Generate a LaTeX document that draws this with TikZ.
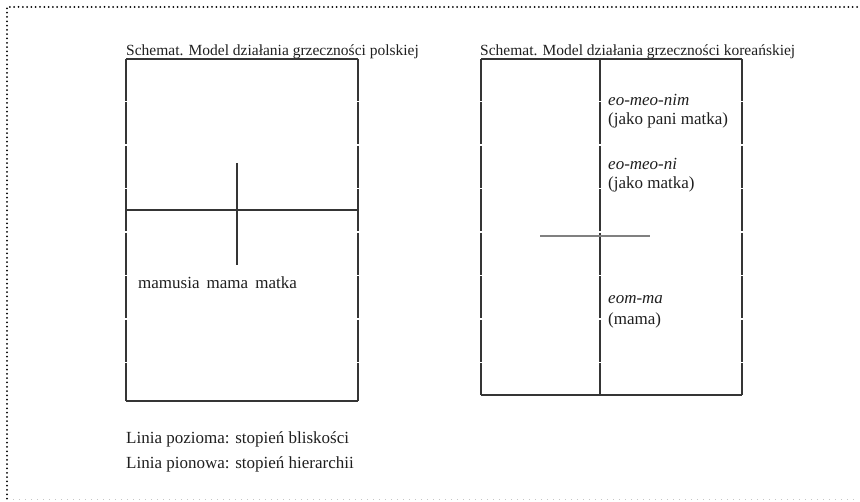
\documentclass[tikz,border=0pt]{standalone}
\usepackage{fontspec}
\setmainfont{Liberation Serif}
\usepackage{xcolor}
\definecolor{ink}{HTML}{353535}
\definecolor{txt}{HTML}{1F1F1F}
\tikzset{
    side/.style={ink,line width=1.5pt,dash pattern=on 42pt off 1.5pt},
    edge/.style={ink,line width=1.5pt},
    lbl/.style={anchor=west,inner sep=0pt,text=txt,font=\fontsize{17}{20}\selectfont},
    ttl/.style={anchor=base west,inner sep=0pt,text=txt,font=\fontsize{15.5}{18}\selectfont}
}
\newcommand{\schembox}[4]{
    \draw[edge] (#1,#2) -- (#3,#2);
    \draw[edge] (#1,#4) -- (#3,#4);
    \draw[side] (#1,#2) -- (#1,#4);
    \draw[side] (#3,#2) -- (#3,#4);
}

\begin{document}
\begin{tikzpicture}[x=1pt,y=-1pt]
\useasboundingbox (0,0) rectangle (860,502);
% frame
\draw[black,line width=2pt,line cap=round,dash pattern=on 0pt off 4.3pt] (857,7) -- (7,7) -- (7,501);
\draw[gray!45,line width=1pt,dash pattern=on 1pt off 5pt] (7,500) -- (857,500);

% polish model
\node[ttl] (tpl) at (126,55.5) {Schemat. Model działania grzeczności polskiej};
\schembox{126}{59}{358}{401}
\coordinate (hl) at (126,210);
\coordinate (hr) at (358,210);
\coordinate (vt) at (237,163);
\coordinate (vb) at (237,265);
\draw[edge] (hl) -- (hr);
\draw[edge] (vt) -- (vb);
\node[lbl] (forms) at (138,283) {mamusia\, mama\, matka};

% korean model
\node[ttl] (tko) at (480,55.5) {Schemat. Model działania grzeczności koreańskiej};
\schembox{481}{59}{742}{395}
\coordinate (kt) at (600,59);
\coordinate (kb) at (600,395);
\coordinate (kl) at (540,236);
\coordinate (kr) at (650,236);
\draw[side] (kt) -- (kb);
\draw[gray,line width=1.2pt] (kl) -- (kr);
\foreach \name/\y/\word/\gloss in {
    nim/100/{\textit{eo}-\textit{meo}-\textit{nim}}/{(jako pani matka)},
    ni/164/{\textit{eo}-\textit{meo}-\textit{ni}}/{(jako matka)},
    ma/300/{\textit{eom}-\textit{ma}}/{(mama)}
}{
    \node[lbl] (w\name) at (608,\y) {\word};
    \node[lbl] (g\name) at (608,\y+20) {\gloss};
}

% legend
\node[lbl] (lh) at (126,439) {Linia pozioma: stopień bliskości};
\node[lbl] (lv) at (126,464) {Linia pionowa: stopień hierarchii};
\end{tikzpicture}
\end{document}
